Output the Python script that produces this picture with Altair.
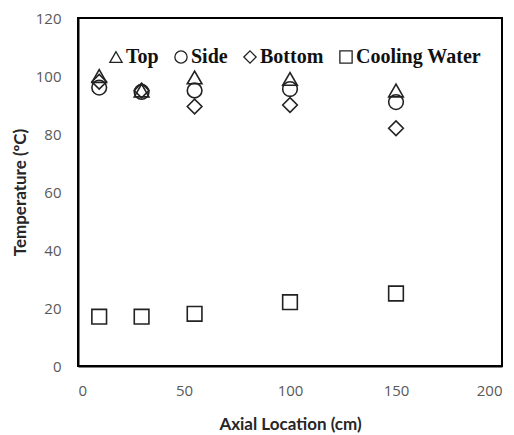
import altair as alt
import pandas as pd

x_loc = [10, 30, 55, 100, 150]
top = [100, 95, 99.5, 99, 95]
side = [96, 94.5, 95, 95.5, 91]
bottom = [98, 95, 89.5, 90, 82]
cooling = [17, 17, 18, 22, 25]
series = ["Top", "Side", "Bottom", "Cooling Water"]
shapes = ["triangle-up", "circle", "diamond", "square"]

rows = []
for name, vals in zip(series, [top, side, bottom, cooling]):
    for x, v in zip(x_loc, vals):
        rows.append({"x": x, "T": v, "series": name})
df = pd.DataFrame(rows)

chart = alt.Chart(df).mark_point(
    filled=False, color="#222222", strokeWidth=1.6, opacity=1, size=215
).encode(
    x=alt.X("x:Q", scale=alt.Scale(domain=[0, 200], nice=False),
            axis=alt.Axis(values=[0, 50, 100, 150, 200], title="Axial Location (cm)",
                          grid=False, ticks=False, labelPadding=17, titlePadding=18)),
    y=alt.Y("T:Q", scale=alt.Scale(domain=[0, 120], nice=False),
            axis=alt.Axis(values=[0, 20, 40, 60, 80, 100, 120], title="Temperature (ºC)",
                          grid=False, ticks=False, labelPadding=17, titlePadding=6)),
    shape=alt.Shape("series:N", sort=series,
                    scale=alt.Scale(domain=series, range=shapes),
                    legend=alt.Legend(orient="none", legendX=28, legendY=29,
                                      direction="horizontal", title=None,
                                      labelFont="Liberation Serif", labelFontWeight="bold",
                                      labelFontSize=20, labelColor="#111",
                                      symbolStrokeColor="#222222", symbolStrokeWidth=1.3,
                                      symbolSize=150, symbolFillColor="transparent",
                                      labelOffset=0, columnPadding=12)),
).properties(width=424, height=348, padding=3).configure_view(
    stroke="black", strokeWidth=2
).configure_axis(
    domainColor="black", domainWidth=2, labelFont="Open Sans", labelFontSize=15,
    labelColor="#595959", titleFont="Lato", titleFontSize=17, titleFontWeight="bold",
    titleColor="#262626"
)

chart.save("out.html", embed_options={"renderer": "svg", "actions": False})
